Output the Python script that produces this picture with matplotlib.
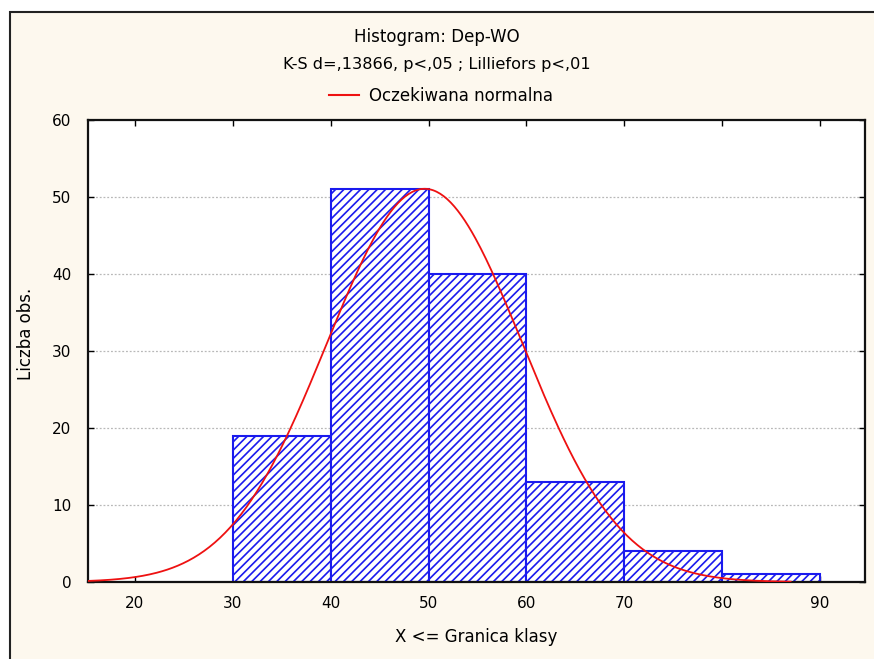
import numpy as np
import matplotlib
matplotlib.use("Agg")
import matplotlib.pyplot as plt
from matplotlib.lines import Line2D
from matplotlib.patches import Rectangle

plt.rcParams['font.family'] = ['DejaVu Sans']
plt.rcParams['hatch.color'] = '#3040f0'
plt.rcParams['hatch.linewidth'] = 1.2

# Data
bin_edges = [30, 40, 50, 60, 70, 80, 90]
counts = [19, 51, 40, 13, 4, 1]
mean_val = 49.6
sd_val = 10.0
n_obs = sum(counts)
bin_width = 10
x_ticks = [20, 30, 40, 50, 60, 70, 80, 90]
y_ticks = [0, 10, 20, 30, 40, 50, 60]
title1 = "Histogram: Dep-WO"
title2 = "K-S d=,13866, p<,05 ; Lilliefors p<,01"
legend_label = "Oczekiwana normalna"

fig = plt.figure(figsize=(8.74, 6.59), dpi=100)
fig.patch.set_facecolor('white')
fig.patches.append(Rectangle((10/874, -0.05), 1.0, 1 - 12/659 + 0.05, transform=fig.transFigure,
                             facecolor='#fdf8ee', edgecolor='#222222', linewidth=1.5, zorder=-10))

ax = fig.add_axes([88/874, 1 - 582/659, (865 - 88)/874, (582 - 120)/659])
ax.set_facecolor('white')

lefts = bin_edges[:-1]
widths = [bin_edges[i+1] - bin_edges[i] for i in range(len(counts))]
ax.bar(lefts, counts, width=widths, align='edge', facecolor='white',
       edgecolor='#1a1aee', linewidth=1.5, hatch='////', zorder=2)

xs = np.linspace(15.2, 87, 400)
ys = n_obs * bin_width / (sd_val * np.sqrt(2 * np.pi)) * np.exp(-0.5 * ((xs - mean_val) / sd_val) ** 2)
ax.plot(xs, ys, color='#ee1111', linewidth=1.3, zorder=3)

ax.set_xlim(15.2, 94.6)
ax.set_ylim(0, 60)
ax.set_xticks(x_ticks)
ax.set_yticks(y_ticks)
for yv in y_ticks[1:-1]:
    ax.axhline(yv, color='#b8b8b8', linestyle=(0, (1.5, 1.5)), linewidth=0.9, zorder=1)

ax.tick_params(direction='in', length=4, width=1, top=True, right=True,
               labelsize=11, colors='black', pad=10)
ax.tick_params(axis='y', pad=12)
for s in ax.spines.values():
    s.set_linewidth(1.6)
    s.set_color('#111111')

ax.set_xlabel("X <= Granica klasy", fontsize=12, labelpad=12)
ax.set_ylabel("Liczba obs.", fontsize=12)
ax.yaxis.set_label_coords(-0.068, 0.537)

fig.text(0.5, 1 - 37/659, title1, ha='center', va='center', fontsize=12)
fig.text(0.5, 1 - 65/659, title2, ha='center', va='center', fontsize=11.6)
handle = Line2D([0], [0], color='#ee1111', linewidth=1.5)
fig.legend([handle], [legend_label], loc='center', bbox_to_anchor=(0.505, 1 - 96/659),
           frameon=False, fontsize=12, handlelength=1.8, handletextpad=0.6)

fig.savefig("out.png", dpi=100, facecolor=fig.get_facecolor())
